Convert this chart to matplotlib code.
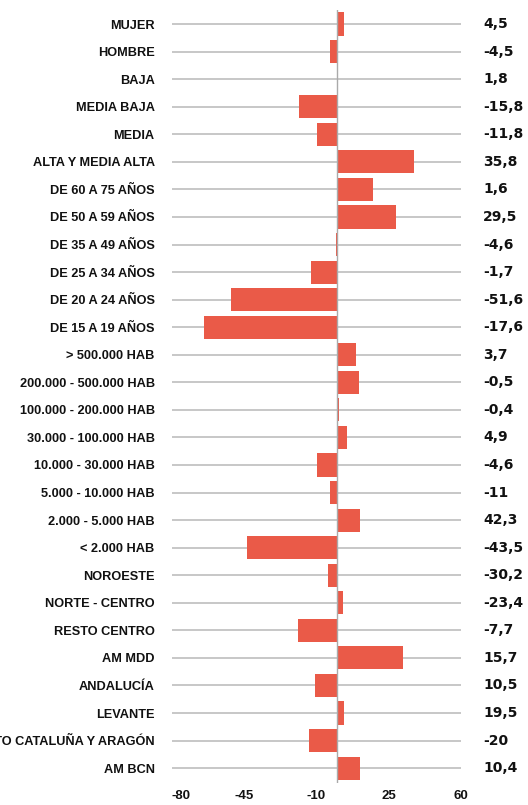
import matplotlib
matplotlib.use("Agg")
import matplotlib.pyplot as plt
from matplotlib.transforms import blended_transform_factory

# categorias de arriba a abajo
categorias = [
    "MUJER", "HOMBRE", "BAJA", "MEDIA BAJA", "MEDIA", "ALTA Y MEDIA ALTA",
    "DE 60 A 75 AÑOS", "DE 50 A 59 AÑOS", "DE 35 A 49 AÑOS", "DE 25 A 34 AÑOS",
    "DE 20 A 24 AÑOS", "DE 15 A 19 AÑOS", "> 500.000 HAB", "200.000 - 500.000 HAB",
    "100.000 - 200.000 HAB", "30.000 - 100.000 HAB", "10.000 - 30.000 HAB",
    "5.000 - 10.000 HAB", "2.000 - 5.000 HAB", "< 2.000 HAB", "NOROESTE",
    "NORTE - CENTRO", "RESTO CENTRO", "AM MDD", "ANDALUCÍA", "LEVANTE",
    "RESTO CATALUÑA Y ARAGÓN", "AM BCN",
]

valores = [
    3.4, -3.5, 0.5, -18.4, -9.8, 37.2,
    17.6, 28.6, -0.6, -12.7,
    -51.6, -64.4, 8.9, 10.8,
    0.8, 4.9, -9.8,
    -3.5, 11.3, -43.5, -4.5,
    2.7, -19.0, 32.0, -10.8, 3.5,
    -13.6, 11.3,
]

etiquetas = [
    "4,5", "-4,5", "1,8", "-15,8", "-11,8", "35,8",
    "1,6", "29,5", "-4,6", "-1,7",
    "-51,6", "-17,6", "3,7", "-0,5",
    "-0,4", "4,9", "-4,6",
    "-11", "42,3", "-43,5", "-30,2",
    "-23,4", "-7,7", "15,7", "10,5", "19,5",
    "-20", "10,4",
]

ticks_x = [-80, -45, -10, 25, 60]

rojo = "#EA5A48"
gris = "#BDBDBD"
fuente = "Liberation Sans"

fig = plt.figure(figsize=(5.28, 8.05), dpi=100)
ax = fig.add_axes([172 / 528, 1 - 783 / 805, 289 / 528, 773 / 805])

y = list(range(len(categorias)))
ax.barh(y, valores, height=0.84, color=rojo, zorder=3)
ax.axvline(0, color="#AAAAAA", lw=1.0, zorder=4)

ax.set_xlim(-80, 60)
ax.set_ylim(len(categorias) - 0.46, -0.51)

ax.set_yticks(y)
ax.set_yticklabels(categorias, fontfamily=fuente, fontweight="bold", fontsize=9.2)
ax.set_xticks(ticks_x)
ax.set_xticklabels([str(t) for t in ticks_x], fontfamily=fuente, fontweight="bold", fontsize=9.5)
ax.tick_params(axis="y", length=0, pad=12.5)
ax.tick_params(axis="x", length=0, pad=5)
ax.get_xticklabels()[0].set_horizontalalignment("left")

ax.grid(axis="y", color=gris, lw=1.2, zorder=0)
ax.grid(axis="x", visible=False)
for s in ax.spines.values():
    s.set_visible(False)

# valores a la derecha (el recorte de la etiqueta larga es igual que en el original)
trans = blended_transform_factory(fig.transFigure, ax.transData)
for i, txt in enumerate(etiquetas):
    ax.text(483 / 528, i, txt, transform=trans, ha="left", va="center",
            fontfamily="DejaVu Sans", fontweight="bold", fontsize=10, color="#111111")

for lbl in ax.get_yticklabels() + ax.get_xticklabels():
    lbl.set_color("#111111")

fig.savefig("out.png", dpi=100)
